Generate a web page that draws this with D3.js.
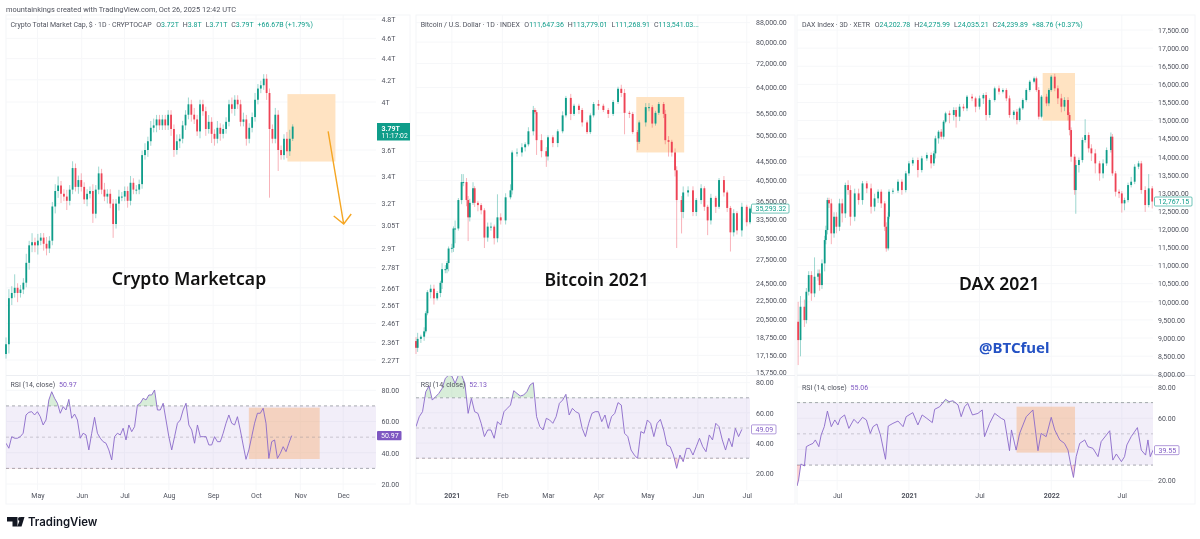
<!DOCTYPE html>
<html>
<head>
<meta charset="utf-8">
<script src="https://cdn.jsdelivr.net/npm/d3@7/dist/d3.min.js"></script>
<style>
  html, body { margin: 0; background: #fff; }
  svg { display: block; filter: blur(0.3px); }
  text { font-family: Roboto, sans-serif; }
</style>
</head>
<body>
<div class="chart"></div>
<script>
// ---- crypto total market cap, values in trillions
let cryptoCloses = [2.35,2.60,2.63,2.66,2.63,2.65,2.69,2.81,2.92,2.94,
  2.92,2.95,2.97,2.93,2.90,2.95,3.18,3.29,3.33,3.27,
  3.25,3.22,3.30,3.46,3.32,3.37,3.32,3.23,3.27,3.29,
  3.13,3.30,3.42,3.30,3.25,3.27,3.20,3.06,3.20,3.25,
  3.25,3.29,3.22,3.35,3.30,3.30,3.34,3.56,3.60,3.67,
  3.78,3.80,3.85,3.80,3.85,3.80,3.89,3.77,3.60,3.67,
  3.69,3.80,3.89,3.98,3.89,3.85,3.75,3.98,3.92,3.77,
  3.83,3.73,3.69,3.78,3.73,3.77,3.83,3.98,3.94,4.02,
  3.98,3.83,3.85,3.69,3.78,3.87,4.02,4.12,4.15,4.21,
  4.08,3.77,3.69,3.89,3.60,3.56,3.69,3.59,3.69,3.79];
let cryptoWickUp = [1.5,2,1.5,3,1,1,1,2,1,2,
  1,1.5,1,1,1.5,1,1,1.5,2,1,
  1,1.5,1,1.5,1,1,1.5,1,1,1,
  1.5,1,1.5,1,1.5,1,1,1,1,1.5,
  1,1,1,1.5,1,1,1,1,1.5,1,
  1.5,1.5,1,1,1,1,1,1,1,1.5,
  1,1,1,1.5,1,1.5,1,1,1,1,
  1.5,1,1,1.5,1,1,1,1,1.5,1,
  1,1,1.5,1,1,1,1.5,1,1,1,
  1,1,1,1.5,1,1,1,1.5,2,0.5];
let cryptoWickDn = [1,2,1.5,1,2,1,1,1,1.5,1.5,
  1.5,2,1,1.5,1.5,1,1,1.5,1.5,2,
  1,2,1,1,1,1.5,1,1,1.5,1,
  2,1,1,1,1,1.5,1,3,1,1.5,
  1,1,1.5,1,1,1,1,1,1,1.5,
  1,1,1.5,1,1,1,1,1.5,1.5,1,
  1.5,1,1,1,1.5,1,1,1.5,1,1.5,
  1,2,1.5,1,1.5,1,1,1,1,1.5,
  1,1,1,1.5,1,1,1,1,1,1,
  1.5,14,1,1,4.5,1,1,1.5,1,0.5];
let cryptoRsi = [46.1,42.9,50.3,49.3,49.3,50.3,52.5,64.2,65.9,66.3,
  64.2,66.3,63.1,57.8,61,73.8,79.1,74.9,71.7,65.3,
  69.5,67.4,74.2,62.1,64.8,61,49.3,52.5,51.4,41.8,
  52.5,62.7,52.5,49.3,47.1,46.1,41.8,35.4,50.3,52.5,
  51.4,55.7,48.2,57.8,53.5,56.7,70.6,71.7,74.9,73.8,
  77,77,80.2,67.4,67.4,71.7,61,50.3,41.8,50.3,
  58.9,61,67.4,71.7,57.8,54.6,46.1,57.8,50.3,50.3,
  50.3,45,45,50.3,47.1,47.1,52.5,58.9,64.2,58.9,
  57.8,63.1,54.6,45,35.8,41.8,50.3,58.9,65.3,65.3,
  68.5,58.9,36.4,47.1,48.2,36.4,39.6,43.9,40.7,46.1,50.97];
let cryptoTicks = [4.8,4.6,4.4,4.2,4,3.6,3.4,3.2,3.05,2.9,2.78,2.66,2.56,2.46,2.36,2.27];
let cryptoMonths = ['May','Jun','Jul','Aug','Sep','Oct','Nov','Dec'];
let cryptoMonthDates = [[2025,4],[2025,5],[2025,6],[2025,7],[2025,8],[2025,9],[2025,10],[2025,11]];

// ---- bitcoin, values in thousands of dollars, days counted from 10 Dec 2020
let btcDays = [0,1,3,5,6,7,9,11,13,15,
  16,18,19,20,22,23,24,26,28,29,
  31,32,33,35,36,38,40,42,44,46,
  48,50,52,55,58,59,62,65,67,69,
  72,73,74,77,80,81,84,87,90,92,
  95,97,100,102,105,107,109,112,115,118,
  121,124,126,128,131,133,136,137,141,143,
  145,147,149,152,153,155,157,159,160,163,
  164,167,170,172,175,177,179,181,184,186,
  189,191,193,195,197,200,203,205];
let btcCloses = [17.8,18.6,18.8,19.3,21.1,23.4,23.8,22.7,23.3,24.5,
  26.2,26.2,27.0,29.0,29.1,32.0,32.0,36.8,40.2,40.2,
  36.8,33.8,36.3,39.0,36.3,35.9,35.0,30.6,32.3,32.3,
  30.5,33.8,33.3,37.3,38.6,46.5,46.5,47.7,48.4,51.6,
  57.3,56.7,49.4,46.8,45.6,50.1,48.7,51.6,55.8,60.8,
  56.2,58.5,57.3,53.9,51.4,55.8,59.0,58.5,57.3,56.2,
  59.6,63.6,62.3,56.5,56.2,51.4,49.0,53.9,58.1,58.1,
  53.6,56.5,59.0,56.2,49.4,49.0,46.5,42.6,36.8,34.7,
  38.2,38.6,34.7,36.8,39.0,35.6,33.3,37.2,35.6,40.6,
  38.2,35.4,31.4,34.5,31.7,35.6,33.0,35.3];
let btcWickUp = [2,3,1,2,1,1,2,2,1,1,
  3,2,1,1,2,1,4,1,4,4,
  2,2,2,3,1,1,1,1,2,2,
  1,12,2,2,3,1,2,2,1,2,
  2,1,1,3,2,1,1,1,2,1,
  2,1,1,1,1,1,1,2,1,1,
  1,1,2,2,1,1,1,1,2,2,
  1,1,1,1,2,2,1,2,2,2,
  3,2,2,1,2,1,1,2,1,1,
  2,1,1,2,1,2,1,1];
let btcWickDn = [3,2,2,2,1,1,3,3,1,2,
  3,2,2,4,2,2,7,1,2,2,
  3,11,2,1,2,3,2,5,2,2,
  3,2,2,2,1,2,2,2,2,1,
  2,1,7,3,5,2,2,2,1,1,
  3,1,2,2,1,1,1,2,1,2,
  1,1,2,10,2,1,4,1,2,2,
  2,1,1,2,2,7,2,3,21,10,
  3,2,2,2,2,2,7,2,3,1,
  2,2,9,2,2,3,2,1];
let btcRsi = [50.9,57.5,60.8,74,77.8,68.5,70.7,72.9,76.2,82.9,
  85,84.4,79.6,85,85,79.6,59.7,69.6,60.8,59.7,
  53.1,44.3,48.7,48.7,43.2,54.2,52,60.8,63,65.2,
  74.7,72.9,71.2,71.8,74,78.5,80,57.5,50.9,48.7,
  56.4,55.3,53.1,57.5,66.3,68.5,72.3,58.6,63,60.8,
  59.7,49.8,44.3,53.1,59.7,60.8,60.8,54.2,58.6,49.8,
  57.5,59.7,66.8,65.2,46.5,44.3,35.4,32.1,29.9,47.6,
  46.5,55.3,53.1,44.3,53.1,55.7,48.7,38.7,37.6,32.1,
  23.3,32.1,27.7,36.5,36.5,32.1,37.6,43.2,37.6,34.3,
  45.4,42.1,53.1,50.9,42.1,35.4,43.2,37.6,49.8,44.3,49.09];
let btcTicks = [88,80,72,64,56.5,50.5,44.5,40.5,36.5,33.5,30.5,27.5,24.5,22.5,20.5,18.75,17.15,15.75];
let btcMonths = ['2021','Feb','Mar','Apr','May','Jun','Jul'];
let btcMonthDates = [[2021,0],[2021,1],[2021,2],[2021,3],[2021,4],[2021,5],[2021,6]];

// ---- DAX, days counted from 20 Mar 2020
let daxDays = [3,9,19,24,30,37,45,54,58,64,
  71,74,78,82,88,95,101,109,116,124,
  131,137,148,158,168,179,190,199,208,216,
  225,229,234,236,246,259,269,279,287,297,
  310,320,333,344,351,355,363,370,376,381,
  391,402,408,417,427,436,449,458,468,478,
  485,494,507,518,528,537,545,556,564,571,
  579,588,597,608,614,620,627,640,646,652,
  661,669,678,686,695,699,703,712,715,723,
  732,739,748,755,765,776,785,794,805,809,
  817,826,833,840,849,857,866,876,883,893,
  902,911];
let daxCloses = [8944,9864,9496,10278,10738,10232,10692,10784,10462,11060,
  11704,11980,12808,12716,11888,12348,12072,12716,12440,13222,
  13084,12348,12992,12808,13268,13130,12624,12854,13038,12716,
  12072,11474,12348,13038,13066,13314,13084,13544,13820,13912,
  13636,13958,14050,13820,14096,14510,14694,14556,14970,15200,
  15154,15292,15108,15384,15338,15660,15614,15384,15614,15706,
  15154,15568,15890,15798,15844,15614,15154,15246,15016,15338,
  15568,15844,16074,16166,15844,15108,15660,15476,15844,16212,
  15890,15614,15384,15568,15154,14740,14004,13084,13774,13912,
  14464,14602,14234,14096,13820,13544,13820,14188,14556,13544,
  13038,12992,12716,12808,13222,13314,13728,13820,13084,12670,
  13130,12767];
let daxWickUp = [5.8,3,2,1,1,1,5,1,1,1,
  1,1,0.5,0.5,1,1,1,1,1,0.5,
  1,1,1,1,0.5,0.5,1,1,0.5,0.5,
  0.5,1,1,0.5,0.5,0.5,0.5,0.5,0.5,0.5,
  0.5,0.5,0.5,0.5,0.5,0.5,0.3,0.5,0.3,0.3,
  0.5,0.5,0.5,0.5,0.5,0.3,0.5,0.3,0.5,0.3,
  0.5,0.3,0.3,0.5,0.3,0.3,0.5,0.3,0.5,0.3,
  0.3,0.3,0.3,0.3,0.3,0.5,0.3,0.5,0.3,0.3,
  0.5,0.5,0.8,0.5,0.5,0.5,0.5,0.5,1,0.5,
  0.5,3,0.5,0.8,0.8,0.5,0.8,0.5,0.8,0.5,
  0.5,0.5,0.5,0.5,0.5,1,0.5,0.5,0.5,0.8,
  3,0.5];
let daxWickDn = [7.7,5,2,1,1,2,1,1,1.5,1,
  2,1,1,1,2.5,1,1.5,1,2,1,
  1,2,1,1,1,1,1.5,1,1,1,
  1,0.8,0.5,0.5,0.5,0.5,1,0.5,0.5,0.5,
  1.5,0.5,0.5,1,0.5,1,1,0.5,0.5,0.3,
  1.5,1,2,0.8,0.5,0.5,0.5,1,0.5,1,
  1,0.5,0.3,0.5,0.3,0.5,0.5,0.8,0.8,0.3,
  0.3,0.3,0.3,0.3,0.3,0.5,0.3,0.5,0.5,0.3,
  0.5,1,1,0.8,1,1,1,1,5,1.5,
  0.5,0.5,0.8,1.5,2,1.5,1,0.5,0.5,0.5,
  1,1,2,1.5,0.5,0.5,0.5,0.5,0.8,1.5,
  0.5,1.5];
let daxRsiDays = [0,4,10,19,24,32,41,47,56,62,
  70,78,88,97,105,111,122,133,146,156,
  168,178,188,195,205,214,227,234,246,259,
  272,280,297,310,321,333,347,353,366,381,
  390,400,413,421,430,438,450,464,475,481,
  494,507,524,532,545,550,562,571,588,605,
  618,626,639,652,661,674,686,695,703,709,
  716,725,738,746,759,772,780,802,810,819,
  832,840,846,857,873,883,894,900,906,913];
let daxRsi = [16.6,20.4,30.7,29.4,41.8,42.9,43.9,46.1,41.8,49.3,
  54.6,64.6,54.6,58.9,55.7,59.9,62.1,53.5,59.3,56.7,
  60.6,58.9,50.3,54.6,56.3,49.3,33.7,55,56.7,58.2,
  54.6,61,63.6,55.7,62.1,59.9,57.2,65.7,67.4,72.1,
  70.6,71.2,68.5,61,67.4,69.5,62.1,63.1,65.3,48.2,
  56.7,63.1,59.9,58.9,39.2,52.5,39.6,50.3,61,65.3,
  39.2,50.3,48.2,60.6,52.5,46.1,43.9,39.6,29,22.1,
  35.4,43.9,46.1,41.8,40.7,35.4,45,52,33.2,37.1,
  32.2,35.4,42.9,48.2,54,39.6,36.4,46.1,35.4,39.55];
let daxTicks = [17500,17000,16500,16000,15500,15000,14500,14000,13500,13000,12500,12000,11500,11000,10500,10000,9500,9000,8500,8000];
let daxMonths = ['Jul','2021','Jul','2022','Jul'];
let daxMonthDates = [[2020,6],[2021,0],[2021,6],[2022,0],[2022,6]];

let rsiTicks = [80,60,40,20];
let rsiLevels = [70,50,30];

let upColor = '#0f9d8a';
let downColor = '#ee4355';
let rsiColor = '#7e57c2';
let boxColor = '#ffe3c2';

let svg = d3.select('.chart').append('svg')
  .attr('width', 1200)
  .attr('height', 539);
svg.append('defs');

let tipDay = 236.4;

function fmt2(d) {
  return d3.format(',.2f')(d);
}

function drawPanel(p) {
  let g = svg.append('g').attr('id', p.id);
  let x = d3.scaleTime().domain([p.start, d3.timeDay.offset(p.start, p.spanDays)]).range([p.x0, p.x1]);
  let dayToDate = d => new Date(+p.start + d * 864e5);
  let y = p.scale.domain(p.domain).range(p.range);
  let rsiY = d3.scaleLinear().domain([80, 20]).range(p.rsiRange);
  let monthDates = p.monthDates.map(d => new Date(d[0], d[1], 1));

  // frame and grid
  g.append('rect').attr('x', p.left).attr('y', 15).attr('width', p.right - p.left).attr('height', 489)
    .attr('fill', 'none').attr('stroke', '#f4f5f8');
  g.append('line').attr('x1', p.left).attr('x2', p.right).attr('y1', 375.5).attr('y2', 375.5).attr('stroke', '#eceef2');
  g.selectAll('.vgrid').data(monthDates).enter().append('line')
    .attr('x1', d => x(d)).attr('x2', d => x(d)).attr('y1', 15).attr('y2', 490)
    .attr('stroke', '#f6f7f9');
  g.selectAll('.hgrid').data(p.ticks).enter().append('line')
    .attr('x1', p.x0).attr('x2', p.x1).attr('y1', d => y(d)).attr('y2', d => y(d))
    .attr('stroke', '#f6f7f9');
  g.selectAll('.rsigrid').data(rsiTicks).enter().append('line')
    .attr('x1', p.x0).attr('x2', p.x1).attr('y1', d => rsiY(d)).attr('y2', d => rsiY(d))
    .attr('stroke', '#f6f7f9');

  // highlighted box behind the candles
  g.append('rect')
    .attr('x', x(dayToDate(p.box[0]))).attr('y', y(p.box[2]))
    .attr('width', x(dayToDate(p.box[1])) - x(dayToDate(p.box[0])))
    .attr('height', y(p.box[3]) - y(p.box[2]))
    .attr('fill', boxColor);

  // candles, open is the previous close
  let candles = p.closes.map((c, i) => {
    let o = i == 0 ? p.firstOpen : p.closes[i - 1];
    let top = Math.max(o, c), bottom = Math.min(o, c);
    return {
      date: dayToDate(p.days[i]),
      open: o, close: c,
      high: top * (1 + p.wickUp[i] / 100),
      low: bottom * (1 - p.wickDn[i] / 100)
    };
  });
  let candleColor = d => d.close >= d.open ? upColor : downColor;
  g.selectAll('.wick').data(candles).enter().append('line')
    .attr('class', 'wick')
    .attr('x1', d => x(d.date)).attr('x2', d => x(d.date))
    .attr('y1', d => y(d.high)).attr('y2', d => y(d.low))
    .attr('stroke', candleColor).attr('stroke-opacity', 0.45).attr('stroke-width', 0.9);
  g.selectAll('.body').data(candles).enter().append('rect')
    .attr('class', 'body')
    .attr('x', d => x(d.date) - p.bodyWidth / 2)
    .attr('width', p.bodyWidth)
    .attr('y', d => y(Math.max(d.open, d.close)))
    .attr('height', d => Math.max(1, Math.abs(y(d.open) - y(d.close))))
    .attr('fill', candleColor);

  // RSI pane
  let paneId = 'pane-' + p.id;
  let defs = svg.select('defs');
  defs.append('clipPath').attr('id', paneId).append('rect')
    .attr('x', p.x0).attr('y', 376).attr('width', p.x1 - p.x0).attr('height', 114);
  defs.append('clipPath').attr('id', paneId + '-hi').append('rect')
    .attr('x', p.x0).attr('y', 376).attr('width', p.x1 - p.x0).attr('height', rsiY(70) - 376);
  defs.append('clipPath').attr('id', paneId + '-lo').append('rect')
    .attr('x', p.x0).attr('y', rsiY(30)).attr('width', p.x1 - p.x0).attr('height', 490 - rsiY(30));

  g.append('rect')
    .attr('x', p.x0).attr('width', p.x1 - p.x0)
    .attr('y', rsiY(70)).attr('height', rsiY(30) - rsiY(70))
    .attr('fill', rsiColor).attr('fill-opacity', 0.1);
  if (p.rsiBox) {
    g.append('rect')
      .attr('x', x(dayToDate(p.rsiBox[0]))).attr('y', rsiY(p.rsiBox[2]))
      .attr('width', x(dayToDate(p.rsiBox[1])) - x(dayToDate(p.rsiBox[0])))
      .attr('height', rsiY(p.rsiBox[3]) - rsiY(p.rsiBox[2]))
      .attr('fill', '#f7b27a').attr('fill-opacity', 0.45);
  }
  g.selectAll('.level').data(rsiLevels).enter().append('line')
    .attr('x1', p.x0).attr('x2', p.x1).attr('y1', d => rsiY(d)).attr('y2', d => rsiY(d))
    .attr('stroke', '#787b86').attr('stroke-width', 0.7).attr('stroke-dasharray', '3 3')
    .attr('stroke-opacity', d => d == 50 ? 0.5 : 0.9);

  let rsiPoints = p.rsi.map((v, i) => ({ date: dayToDate(p.rsiDays(i)), v: v }));
  let rsiLine = d3.line().x(d => x(d.date)).y(d => rsiY(d.v));
  let areaHi = d3.area().x(d => x(d.date)).y0(rsiY(70)).y1(d => rsiY(d.v));
  let areaLo = d3.area().x(d => x(d.date)).y0(rsiY(30)).y1(d => rsiY(d.v));
  g.append('path').datum(rsiPoints).attr('d', areaHi)
    .attr('fill', '#4caf50').attr('fill-opacity', 0.22).attr('clip-path', 'url(#' + paneId + '-hi)');
  g.append('path').datum(rsiPoints).attr('d', areaLo)
    .attr('fill', '#f23645').attr('fill-opacity', 0.22).attr('clip-path', 'url(#' + paneId + '-lo)');
  g.append('path').datum(rsiPoints).attr('d', rsiLine)
    .attr('fill', 'none').attr('stroke', '#8a69c9').attr('stroke-width', 0.9)
    .attr('clip-path', 'url(#' + paneId + ')');

  // axes
  let priceAxis = d3.axisRight(y).tickValues(p.ticks).tickSize(0).tickPadding(0).tickFormat(p.tickLabel);
  let rsiAxis = d3.axisRight(rsiY).tickValues(rsiTicks).tickSize(0).tickPadding(0).tickFormat(d3.format('.2f'));
  let timeAxis = d3.axisBottom(x).tickValues(monthDates).tickSize(0).tickPadding(0)
    .tickFormat((d, i) => p.months[i]);
  g.append('g').attr('transform', 'translate(' + p.labelX + ',0)').call(priceAxis).call(styleAxis);
  g.append('g').attr('transform', 'translate(' + p.labelX + ',0)').call(rsiAxis).call(styleAxis);
  g.append('g').attr('transform', 'translate(0,493.5)').call(timeAxis).call(styleAxis)
    .selectAll('text').attr('font-weight', (d, i) => /^20/.test(p.months[i]) ? 700 : 400);

  // legends
  let head = g.append('text').attr('x', p.headX).attr('y', 26.5).attr('font-size', 7).attr('fill', '#50535e');
  head.append('tspan').text(p.title);
  p.ohlc.forEach((d, i) => {
    head.append('tspan').attr('dx', i == 0 ? 4.5 : 4).text(d[0]);
    head.append('tspan').attr('fill', upColor).text(d[1]);
  });
  if (p.change) head.append('tspan').attr('dx', 4).attr('fill', upColor).text(p.change);
  let rsiHead = g.append('text').attr('x', p.headX).attr('y', p.rsiHeadY).attr('font-size', 7).attr('fill', '#50535e');
  rsiHead.append('tspan').text('RSI (14, close)');
  rsiHead.append('tspan').attr('dx', 4).attr('fill', rsiColor).text(p.rsiHead);

  // titles over the chart
  g.append('text').attr('x', p.bigX).attr('y', p.bigY).attr('text-anchor', 'middle')
    .attr('dominant-baseline', 'central')
    .style('font-family', '"Noto Sans", sans-serif')
    .attr('font-size', 17.6).attr('font-weight', 600).attr('fill', '#111').text(p.big);

  // last value tags
  if (p.priceTag) {
    let t = p.priceTag;
    g.append('rect').attr('x', t.x).attr('y', y(t.v) - 4.5).attr('width', t.w).attr('height', 9)
      .attr('fill', '#fff').attr('stroke', upColor).attr('stroke-width', 0.6).attr('rx', 1);
    g.append('text').attr('x', t.x + 4).attr('y', y(t.v) + 2.5).attr('font-size', 7)
      .attr('fill', upColor).text(fmt2(t.label));
    let r = p.rsiTag;
    g.append('rect').attr('x', t.x).attr('y', rsiY(r) - 4.5).attr('width', 24.5).attr('height', 9)
      .attr('fill', '#fff').attr('stroke', rsiColor).attr('stroke-width', 0.6).attr('rx', 1);
    g.append('text').attr('x', t.x + 4).attr('y', rsiY(r) + 2.5).attr('font-size', 7)
      .attr('fill', rsiColor).text(fmt2(r));
  }
  return { x: x, y: y, rsiY: rsiY, dayToDate: dayToDate, g: g };
}

function styleAxis(sel) {
  sel.select('.domain').remove();
  sel.selectAll('text').attr('font-size', 7).attr('fill', '#50535e')
    .style('font-family', 'Roboto, sans-serif');
}

// top watermark
svg.append('text').attr('x', 6).attr('y', 12).attr('font-size', 7.4).attr('fill', '#50535e')
  .text('mountainkings created with TradingView.com, Oct 26, 2025 12:42 UTC');

let crypto = drawPanel({
  id: 'crypto', left: 6, right: 410, x0: 6, x1: 376, labelX: 381.5,
  start: new Date(2025, 3, 9), spanDays: 259,
  scale: d3.scaleLog(), domain: [4.8, 2.27], range: [19, 360],
  closes: cryptoCloses, firstOpen: 2.30, wickUp: cryptoWickUp, wickDn: cryptoWickDn,
  days: cryptoCloses.map((c, i) => i * 2.027), bodyWidth: 1.8,
  rsi: cryptoRsi, rsiDays: i => i * 2, rsiRange: [390.3, 484],
  ticks: cryptoTicks, tickLabel: d => d + 'T',
  months: cryptoMonths, monthDates: cryptoMonthDates,
  box: [197, 230.6, 4.07, 3.51], rsiBox: [170, 219.6, 68.9, 36],
  title: 'Crypto Total Market Cap, $ · 1D · CRYPTOCAP',
  ohlc: [['O', '3.72T'], ['H', '3.8T'], ['L', '3.71T'], ['C', '3.79T']], change: '+66.67B (+1.79%)',
  headX: 10.5, rsiHeadY: 387, rsiHead: '50.97',
  big: 'Crypto Marketcap', bigX: 189, bigY: 278
});

let btc = drawPanel({
  id: 'btc', left: 416, right: 795, x0: 416, x1: 750, labelX: 756,
  start: new Date(2020, 11, 10), spanDays: 205.5,
  scale: d3.scaleLog(), domain: [88, 15.75], range: [22.7, 372.7],
  closes: btcCloses, firstOpen: 18.4, wickUp: btcWickUp, wickDn: btcWickDn,
  days: btcDays, bodyWidth: 1.9,
  rsi: btcRsi, rsiDays: i => i * 2, rsiRange: [382.7, 473.3],
  ticks: btcTicks, tickLabel: d => fmt2(d * 1000),
  months: btcMonths, monthDates: btcMonthDates,
  box: [135.2, 164.6, 61.07, 46.5],
  title: 'Bitcoin / U.S. Dollar · 1D · INDEX',
  ohlc: [['O', '111,647.36'], ['H', '113,779.01'], ['L', '111,268.91'], ['C', '113,541.03...']],
  headX: 420.7, rsiHeadY: 387, rsiHead: '52.13',
  big: 'Bitcoin 2021', bigX: 596.7, bigY: 279,
  priceTag: { x: 751.5, v: 35.29, w: 37.5, label: 35293.32 }, rsiTag: 49.09
});

let dax = drawPanel({
  id: 'dax', left: 797, right: 1195, x0: 797, x1: 1153, labelX: 1158,
  start: new Date(2020, 2, 20), spanDays: 913,
  scale: d3.scaleLinear(), domain: [17500, 8000], range: [30, 374.3],
  closes: daxCloses, firstOpen: 9450, wickUp: daxWickUp, wickDn: daxWickDn,
  days: daxDays, bodyWidth: 1.8,
  rsi: daxRsi, rsiDays: i => daxRsiDays[i], rsiRange: [387, 480.7],
  ticks: daxTicks, tickLabel: fmt2,
  months: daxMonths, monthDates: daxMonthDates,
  box: [630, 713, 16313, 14997], rsiBox: [563, 713, 67.4, 38],
  title: 'DAX Index · 3D · XETR',
  ohlc: [['O', '24,202.78'], ['H', '24,275.99'], ['L', '24,035.21'], ['C', '24,239.89']], change: '+88.76 (+0.37%)',
  headX: 802, rsiHeadY: 389.5, rsiHead: '55.06',
  big: 'DAX 2021', bigX: 999.3, bigY: 282.7,
  priceTag: { x: 1154.5, v: 12767.15, w: 37.5, label: 12767.15 }, rsiTag: 39.55
});

// arrow on the crypto chart, from the box down to about 3.06T
let arrowColor = '#f5a623';
let ax0 = crypto.x(crypto.dayToDate(225.5)), ay0 = crypto.y(3.75);
let ax1 = crypto.x(crypto.dayToDate(tipDay)), ay1 = crypto.y(3.06);
let arrow = d3.path();
arrow.moveTo(ax0, ay0);
arrow.lineTo(ax1, ay1);
arrow.moveTo(ax1 - 10, ay1 - 8);
arrow.lineTo(ax1, ay1);
arrow.lineTo(ax1 + 7.5, ay1 - 10);
crypto.g.append('path').attr('d', arrow.toString()).attr('fill', 'none')
  .attr('stroke', arrowColor).attr('stroke-width', 1.4);

// crypto price and rsi tags are filled
crypto.g.append('rect').attr('x', 377).attr('y', 123).attr('width', 33).attr('height', 17.5).attr('fill', upColor);
crypto.g.append('text').attr('x', 381.5).attr('y', 130.5).attr('font-size', 7).attr('font-weight', 700).attr('fill', '#fff').text('3.79T');
crypto.g.append('text').attr('x', 381.5).attr('y', 138).attr('font-size', 6.8).attr('fill', '#fff').text('11:17:02');
crypto.g.append('rect').attr('x', 377).attr('y', crypto.rsiY(50.97) - 4.7).attr('width', 24.5).attr('height', 9.4).attr('fill', rsiColor).attr('rx', 1);
crypto.g.append('text').attr('x', 381).attr('y', crypto.rsiY(50.97) + 2.6).attr('font-size', 7).attr('fill', '#fff').text('50.97');

svg.append('text').attr('x', 1014.3).attr('y', 346.7).attr('text-anchor', 'middle')
  .attr('dominant-baseline', 'central')
  .style('font-family', '"Noto Sans", sans-serif')
  .attr('font-size', 15).attr('font-weight', 700).attr('fill', '#2452c4').text('@BTCfuel');

// TradingView logo
let logo = svg.append('g').attr('id', 'logo').attr('fill', '#131722');
logo.append('path').attr('d', 'M7 517h10.5v9.5h-5v-5H7z');
logo.append('circle').attr('cx', 20).attr('cy', 519).attr('r', 2);
logo.append('path').attr('d', 'M21.5 526.5h-4.2l3.6-9.5h3.6z');
logo.append('text').attr('x', 28).attr('y', 525.5)
  .style('font-family', 'Inter, sans-serif')
  .attr('font-size', 11.4).attr('font-weight', 600).attr('fill', '#131722').text('TradingView');
</script>
</body>
</html>
